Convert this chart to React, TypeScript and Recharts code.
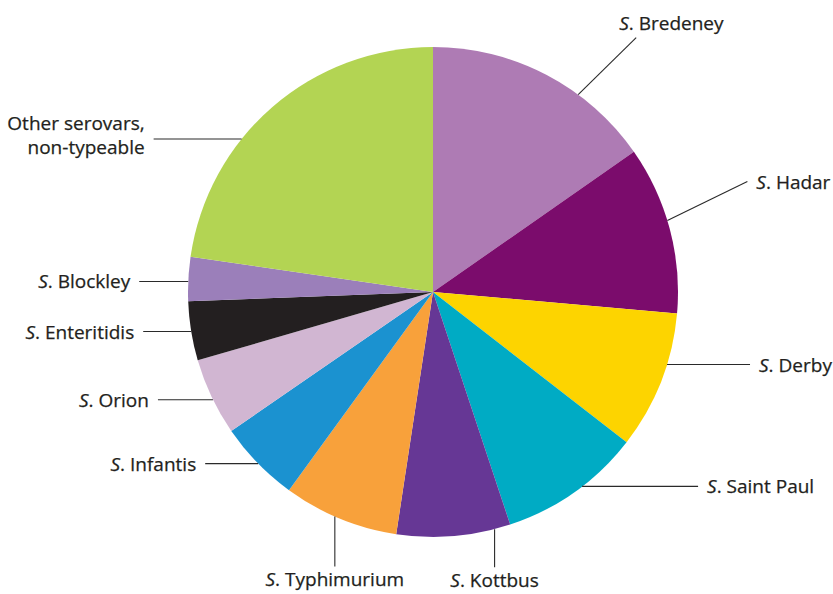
/* Salmonella serovar share – pie with leader-line labels */
import { PieChart, Pie, Cell } from "recharts";

/* serovars, clockwise from 12 o'clock */
const serovars = [
  "Bredeney", "Hadar", "Derby", "Saint Paul", "Kottbus", "Typhimurium",
  "Infantis", "Orion", "Enteritidis", "Blockley", "Other serovars,|non-typeable",
];
/* share of isolates, % */
const shares = [15.3, 11.1, 9.1, 9.4, 7.5, 7.6, 5.4, 5.1, 3.9, 2.9, 22.7];
const colors = [
  "#ae7bb4", "#7b0c6c", "#fdd400", "#00abc4", "#663795", "#f8a13b",
  "#1b92d0", "#d1b6d2", "#231f20", "#9b7fba", "#b3d453",
];

/* leader-line layout: angle nudge (deg, clockwise), line offset, text side */
type Side = "left" | "right" | "below" | "above";
const labelLayout: { nudge: number; dx: number; dy: number; side: Side }[] = [
  { nudge: 8.8, dx: 58, dy: -57, side: "above" },
  { nudge: -2.0, dx: 80, dy: -39, side: "right" },
  { nudge: -4.2, dx: 83, dy: 0, side: "right" },
  { nudge: -2.2, dx: 116, dy: 0, side: "right" },
  { nudge: -9.7, dx: 0, dy: 38, side: "below" },
  { nudge: 1.3, dx: 0, dy: 50, side: "below" },
  { nudge: -0.2, dx: -53, dy: 0, side: "left" },
  { nudge: -0.7, dx: -55, dy: 0, side: "left" },
  { nudge: -0.1, dx: -48, dy: 0, side: "left" },
  { nudge: -0.6, dx: -49, dy: 0, side: "left" },
  { nudge: -10.5, dx: -88, dy: 0, side: "left" },
];

const data = serovars.map((name, i) => ({ name, value: shares[i] }));

const RADIAN = Math.PI / 180;
const FONT = "'Open Sans', sans-serif";
const TEXT = "#231f20";
const FS = 19;

function renderLabel(props: any) {
  const { cx, cy, midAngle, outerRadius, index } = props;
  const lay = labelLayout[index];
  const a = (midAngle - lay.nudge) * RADIAN;
  const x0 = cx + outerRadius * Math.cos(a);
  const y0 = cy - outerRadius * Math.sin(a);
  const x1 = x0 + lay.dx;
  const y1 = y0 + lay.dy;

  const name = serovars[index];
  const isOther = name.includes("|");

  let tx = x1, ty = y1 + 7, anchor: "start" | "middle" | "end" = "start";
  if (lay.side === "right") tx = x1 + 9;
  if (lay.side === "left") { tx = x1 - 9; anchor = "end"; }
  if (lay.side === "below") { ty = y1 + 20; anchor = "middle"; }
  if (lay.side === "above") { tx = x1 - 17; ty = y1 - 8; }

  return (
    <g key={`lbl-${index}`}>
      <line x1={x0} y1={y0} x2={x1} y2={y1} stroke="#2a2a2a" strokeWidth={1.1} />
      {isOther ? (
        <text x={tx} y={y1} textAnchor={anchor} fontFamily={FONT} fontSize={FS} fill={TEXT}
          stroke={TEXT} strokeWidth={0.25}>
          {name.split("|").map((ln, k) => (
            <tspan key={k} x={tx} y={y1 - 9 + k * 24}>{ln}</tspan>
          ))}
        </text>
      ) : (
        <text x={tx} y={ty} textAnchor={anchor} fontFamily={FONT} fontSize={FS} fill={TEXT}
          stroke={TEXT} strokeWidth={0.25}>
          <tspan fontStyle="italic">S</tspan>
          <tspan>. {name}</tspan>
        </text>
      )}
    </g>
  );
}

export default function App() {
  return (
    <div style={{ position: "absolute", left: 0, top: 0, background: "#fff" }}>
      <PieChart width={833} height={594} margin={{ top: 0, right: 0, bottom: 0, left: 0 }}>
        <Pie
          data={data}
          dataKey="value"
          nameKey="name"
          cx={433}
          cy={292}
          outerRadius={245}
          startAngle={90}
          endAngle={-270}
          stroke="none"
          label={renderLabel}
          labelLine={false}
          isAnimationActive={false}
        >
          {data.map((d, i) => (
            <Cell key={d.name} fill={colors[i]} />
          ))}
        </Pie>
      </PieChart>
    </div>
  );
}
